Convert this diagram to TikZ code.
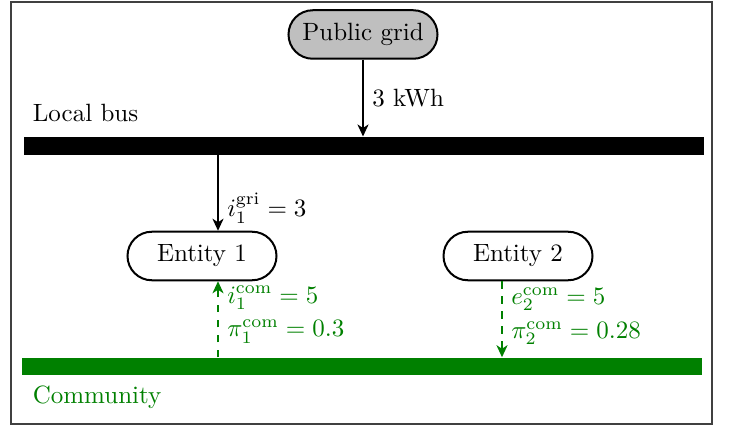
\documentclass[tikz,border=0pt]{standalone}
\usepackage{amsmath, amssymb}
\usepackage{xcolor}
\usepackage{tikz}
\usetikzlibrary{arrows.meta}

\definecolor{comgreen}{RGB}{0,128,0}

\tikzset{
	unit/.style = {draw, thick, rounded corners=9.7pt, minimum width=59.6pt, minimum height=19.4pt, inner sep=0pt},
	bar/.style = {minimum width=272pt, inner sep=0pt},
	flow/.style = {-{Stealth[length=4.8pt, width=4.4pt, inset=1.4pt]}, thick},
	comflow/.style = {flow, dashed, comgreen}
}

\begin{document}
\begin{tikzpicture}[x=0.4pt, y=-0.4pt]
		\useasboundingbox (0,0) rectangle (732,432);
		\draw[black!75, line width=0.6pt] (11,2) rectangle (712,424);
		\begin{scope}
			\node[unit, fill={rgb:black,1;white,3}] (grid) at (363,34.5) {Public grid};
			\node[unit] (ent1) at (202,256) {Entity 1};
			\node[unit] (ent2) at (518,256) {Entity 2};
			\node[bar, fill=black, minimum height=7.2pt] (bus) at (364,146) {};
			\node[bar, fill=comgreen, minimum height=7pt] (comm) at (362,366.5) {};
			\node[anchor=base west] (buslabel) at (24,122) {Local bus};
			\node[anchor=base west, text=comgreen] (commlabel) at (24,403) {Community};
		\end{scope}
		\coordinate (tap1) at (218,0);
		\coordinate (tap2) at (502,0);
		\begin{scope}
			\draw[flow] (grid) -- node[right] {3 kWh} (bus.north -| grid);
			\draw[flow] (bus.south -| tap1) -- node[right, pos=0.7] {$i_1^{\text{gri}} = 3$} (ent1.north -| tap1);
			\draw[comflow] (comm.north -| tap1) -- node[right, align=left, pos=0.56] {$i_1^{\text{com}} = 5$\\[1.5pt]$\pi_1^{\text{com}} = 0.3$} (ent1.south -| tap1);
			\draw[comflow] (ent2.south -| tap2) -- node[right, align=left, pos=0.46] {$e_2^{\text{com}} = 5$\\[1.5pt]$\pi_2^{\text{com}} = 0.28$} (comm.north -| tap2);
		\end{scope}
	\end{tikzpicture}
\end{document}
